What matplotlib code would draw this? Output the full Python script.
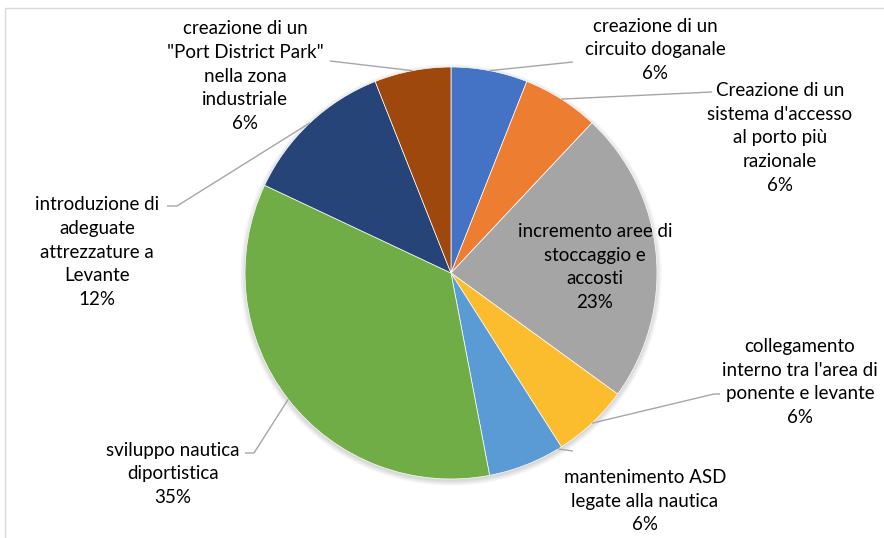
import numpy as np
import matplotlib
matplotlib.use("Agg")
import matplotlib.pyplot as plt
from matplotlib.patches import Circle, Rectangle

# Survey answers: share of each proposed intervention (%)
categories = [
    "creazione di un\ncircuito doganale",
    "Creazione di un\nsistema d'accesso\nal porto più\nrazionale",
    "incremento aree di\nstoccaggio e\naccosti",
    "collegamento\ninterno tra l'area di\nponente e levante",
    "mantenimento ASD\nlegate alla nautica",
    "sviluppo nautica\ndiportistica",
    "introduzione di\nadeguate\nattrezzature a\nLevante",
    "creazione di un\n\"Port District Park\"\nnella zona\nindustriale",
]
values = [6, 6, 23, 6, 6, 35, 12, 6]
colors = ["#4472C4", "#ED7D31", "#A5A5A5", "#FBBD2E",
          "#5B9BD5", "#70AD47", "#264478", "#9E480E"]

W, H = 884, 538
CX, CY, R = 451, 273, 206

fig = plt.figure(figsize=(W / 100, H / 100), dpi=100)
ax = fig.add_axes([0, 0, 1, 1])

# chart area frame
ax.add_patch(Rectangle((5, 8), W + 20, H + 20, fill=False,
                       edgecolor="#d9d9d9", linewidth=1.0))

# soft shadow under the pie
for i in range(8):
    ax.add_patch(Circle((CX, CY + 2), R + 0.7 * i, color="black",
                        alpha=0.018, linewidth=0, zorder=1))

wedges, _ = ax.pie(values, colors=colors, startangle=-90, counterclock=True,
                   center=(CX, CY), radius=R, frame=True,
                   wedgeprops=dict(edgecolor="white", linewidth=0.5))
for w in wedges:
    w.set_zorder(2)
ax.set_xlim(0, W)
ax.set_ylim(H, 0)
ax.set_aspect("equal")
ax.axis("off")

# label placement: text centre, anchor on the rim (fraction of turn), leader path
layout = [
    dict(xy=(655, 50), anchor=None, path=[(573, 62)]),
    dict(xy=(780, 138), anchor=None, path=[(712, 92)]),
    dict(xy=(595, 267), anchor=None, path=None),
    dict(xy=(800, 382), anchor=None, path=[(714, 394), (720, 394)]),
    dict(xy=(645, 501), anchor=0.413, path=[(573, 451)]),
    dict(xy=(173, 474), anchor=None, path=[(254, 453), (245, 453)]),
    dict(xy=(97, 252), anchor=None, path=[(177, 206), (167, 206)]),
    dict(xy=(245, 76), anchor=None, path=[(330, 61)]),
]

total = float(sum(values))
cum = np.cumsum([0] + values) / total
line_color = "#a6a6a6"
font = ["Lato", "DejaVu Sans"]

for i, (name, v) in enumerate(zip(categories, values)):
    lay = layout[i]
    frac = lay["anchor"] if lay["anchor"] is not None else (cum[i] + cum[i + 1]) / 2
    ang = np.deg2rad(-90 + 360 * frac)
    sx, sy = CX + R * np.cos(ang), CY + R * np.sin(ang)
    if lay["path"]:
        pts = [(sx, sy)] + lay["path"]
        ax.plot([p[0] for p in pts], [p[1] for p in pts], color=line_color,
                linewidth=1.0, zorder=3, solid_capstyle="butt")
    ax.text(lay["xy"][0], lay["xy"][1], f"{name}\n{v}%", ha="center", va="center",
            multialignment="center", fontsize=13.5, family=font,
            color="black", linespacing=1.49, zorder=4)

fig.savefig("out.png", dpi=100)
